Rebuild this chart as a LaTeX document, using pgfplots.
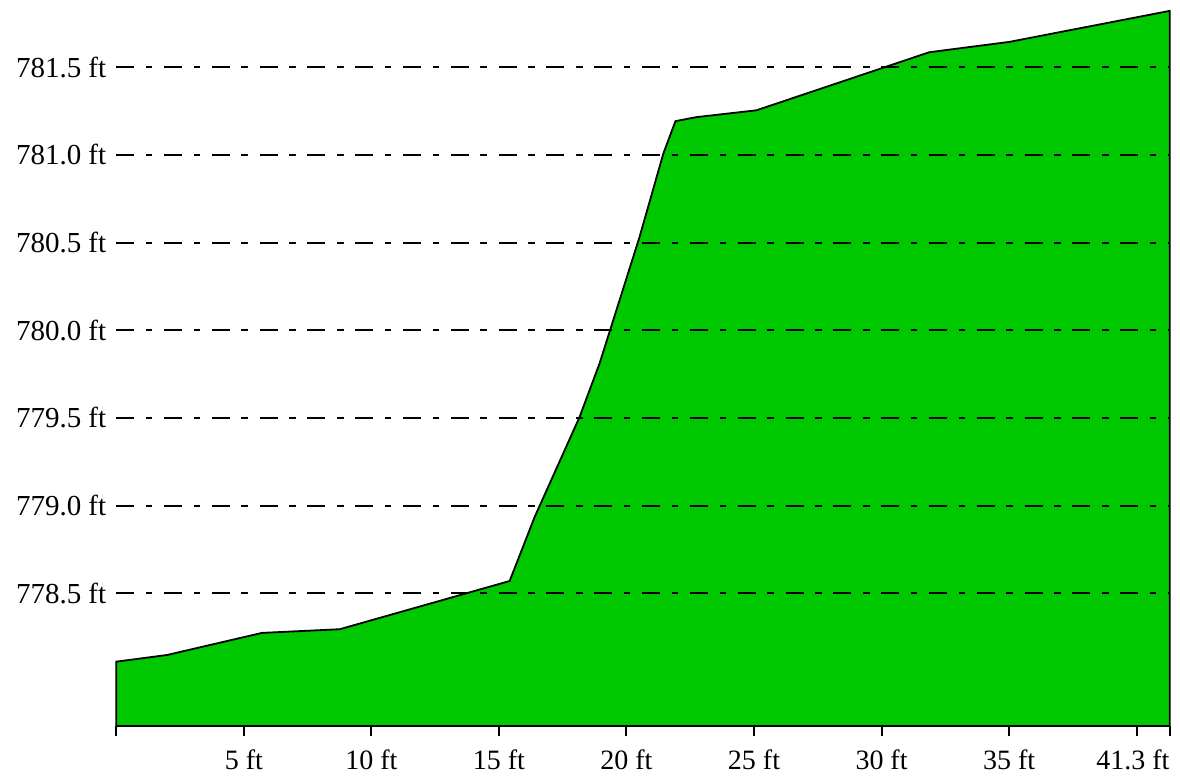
\documentclass[border=0pt]{standalone}
\usepackage{fontspec}
\setmainfont{Liberation Serif}
\usepackage{pgfplots}
\pgfplotsset{compat=1.18}
\definecolor{grn}{RGB}{0,200,0}
\begin{document}
\begin{tikzpicture}
\useasboundingbox (-58.15pt,-25.5pt) rectangle (531.85pt,363pt);
\begin{axis}[
  at={(0,0)}, anchor=south west,
  scale only axis, width=526.75pt, height=363pt,
  xmin=0, xmax=41.3, ymin=777.743, ymax=781.884,
  axis x line*=bottom, axis y line*=left,
  y axis line style={draw=none},
  x axis line style={line width=1pt,-},
  xtick={0,5,10,15,20,25,30,35,40},
  xticklabels={,5 ft,10 ft,15 ft,20 ft,25 ft,30 ft,35 ft,},
  extra x ticks={41.3}, extra x tick labels={41.3 ft},
  extra x tick style={grid=none, xticklabel style={anchor=north east, inner xsep=0pt}},
  ytick={778.5,779,779.5,780,780.5,781,781.5},
  yticklabels={778.5 ft,779.0 ft,779.5 ft,780.0 ft,780.5 ft,781.0 ft,781.5 ft},
  ymajorgrids,
  y grid style={black, line width=1pt, dash pattern=on 9pt off 5.8pt on 3.3pt off 5.8pt},
  ytick style={draw=none},
  tick align=outside, major tick length=5pt,
  xtick style={black, line width=1pt},
  tick label style={font=\fontsize{14}{16}\selectfont},
  yticklabel style={xshift=3.5pt, font=\fontsize{14.5}{16}\selectfont},
  xticklabel style={yshift=-3.5pt},
  axis on top, clip=false,
]
\addplot[fill=grn, draw=black, line width=0.9pt] coordinates {
(0,778.110) (1.99,778.148) (5.71,778.274) (8.76,778.295) (15.42,778.570)
(16.40,778.935) (18.16,779.505) (18.95,779.813) (20.51,780.531) (21.45,781.010)
(21.92,781.193) (22.75,781.216) (25.10,781.255) (31.87,781.586) (35.01,781.645)
(41.3,781.822)
} \closedcycle;
\end{axis}
\end{tikzpicture}
\end{document}
